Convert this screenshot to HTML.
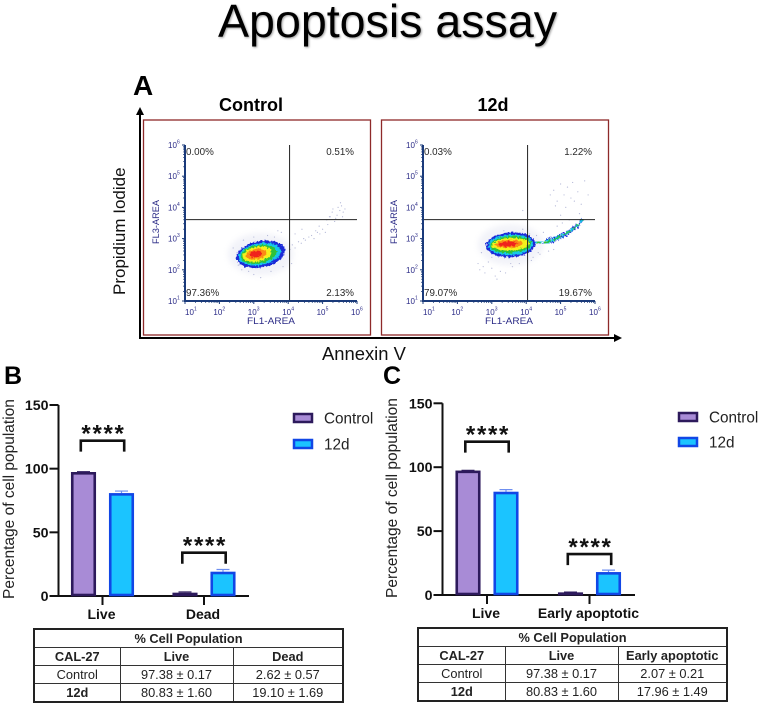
<!DOCTYPE html>
<html lang="en">
<head>
<meta charset="utf-8">
<title>Apoptosis assay</title>
<style>
html,body{margin:0;padding:0;background:#fff;}
#page{position:relative;width:762px;height:707px;overflow:hidden;background:#fff;font-family:"Liberation Sans",sans-serif;}
#fig{position:absolute;left:0;top:0;}
table.pop{position:absolute;border-collapse:collapse;table-layout:fixed;font-size:12.8px;color:#222;font-family:"Liberation Sans",sans-serif;}
table.pop td{border:1px solid #333;padding:0;text-align:center;height:17.1px;line-height:15px;white-space:nowrap;overflow:hidden;}
table.pop{border:2px solid #222;}
table.pop tr.head td{font-weight:bold;}
table.pop td.b{font-weight:bold;}
</style>
</head>
<body>
<div id="page">
<svg id="fig" width="762" height="707" viewBox="0 0 762 707" xmlns="http://www.w3.org/2000/svg">
  <defs>
    <filter id="rough" x="-30%" y="-30%" width="160%" height="160%">
      <feTurbulence type="fractalNoise" baseFrequency="0.45" numOctaves="2" seed="4"/>
      <feDisplacementMap in="SourceGraphic" scale="4.5" xChannelSelector="R" yChannelSelector="G"/>
      <feGaussianBlur stdDeviation="0.35"/>
    </filter>
    <filter id="halo" x="-40%" y="-40%" width="180%" height="180%"><feGaussianBlur stdDeviation="3"/></filter>
  </defs>
  <text x="218" y="37" font-size="46" textLength="339" lengthAdjust="spacingAndGlyphs" fill="#000" style="filter:drop-shadow(1.5px 1.5px 1px rgba(0,0,0,.38))">Apoptosis assay</text>
  <text x="133" y="95" font-size="28" font-weight="bold">A</text>
  <text x="4" y="384" font-size="25" font-weight="bold">B</text>
  <text x="383" y="384" font-size="25" font-weight="bold">C</text>
  <text x="251" y="111" font-size="18" font-weight="bold" text-anchor="middle">Control</text>
  <text x="493" y="111" font-size="18" font-weight="bold" text-anchor="middle">12d</text>
  <text transform="translate(125,295) rotate(-90)" font-size="17" fill="#111">Propidium Iodide</text>
  <text x="322" y="360" font-size="18.4" fill="#111">Annexin V</text>
  <line x1="140" y1="338" x2="140" y2="112" stroke="#000" stroke-width="2"/>
  <polygon points="140,107 136,115 144,115" fill="#000"/>
  <line x1="139" y1="338" x2="615" y2="338" stroke="#000" stroke-width="2"/>
  <polygon points="622,338 614,334 614,342" fill="#000"/>
  <g id="flows"></g>
  <g id="chartB"></g>
  <g id="chartC"></g>
</svg>

<table class="pop" style="left:33px;top:628px;width:309px;">
  <colgroup><col style="width:86px"><col style="width:113px"><col style="width:110px"></colgroup>
  <tr class="head"><td colspan="3">% Cell Population</td></tr>
  <tr class="head"><td>CAL-27</td><td>Live</td><td>Dead</td></tr>
  <tr><td>Control</td><td>97.38 ± 0.17</td><td>2.62 ± 0.57</td></tr>
  <tr><td class="b">12d</td><td>80.83 ± 1.60</td><td>19.10 ± 1.69</td></tr>
</table>
<table class="pop" style="left:417px;top:627px;width:309px;">
  <colgroup><col style="width:87px"><col style="width:113px"><col style="width:109px"></colgroup>
  <tr class="head"><td colspan="3">% Cell Population</td></tr>
  <tr class="head"><td>CAL-27</td><td>Live</td><td>Early apoptotic</td></tr>
  <tr><td>Control</td><td>97.38 ± 0.17</td><td>2.07 ± 0.21</td></tr>
  <tr><td class="b">12d</td><td>80.83 ± 1.60</td><td>17.96 ± 1.49</td></tr>
</table>
</div>

<script>
// ---- Bar chart data ----
var seriesNames = ['Control', '12d'];
var yTicks = [0, 50, 100, 150];
var bCategories = ['Live', 'Dead'];
var bControl = [97.38, 2.62];
var bTreated = [80.83, 19.10];
var bControlErr = [0.17, 0.57];
var bTreatedErr = [1.60, 1.69];
var bBrackets = [122, 34];
var cCategories = ['Live', 'Early apoptotic'];
var cControl = [97.38, 2.07];
var cTreated = [80.83, 17.96];
var cControlErr = [0.17, 0.21];
var cTreatedErr = [1.60, 1.49];
var cBrackets = [120, 32];

// ---- Flow cytometry data (log10 units) ----
var logTicks = [1, 2, 3, 4, 5, 6];
var gateLog = [4.04, 3.61];
var controlQuadrants = ['0.00%', '0.51%', '97.36%', '2.13%'];
var treatedQuadrants = ['0.03%', '1.22%', '79.07%', '19.67%'];
var densityColors = ['#1c2bd8', '#19c8e8', '#2fc23a', '#f5f01e', '#fb8a12', '#f0201a'];
var controlDensityX = [3.2, 3.17, 3.14, 3.1, 3.07, 3.05];
var controlDensityY = [2.5, 2.5, 2.5, 2.5, 2.5, 2.5];
var controlDensityRx = [0.72, 0.62, 0.53, 0.42, 0.3, 0.18];
var controlDensityRy = [0.42, 0.35, 0.3, 0.24, 0.17, 0.1];
var treatedDensityX = [3.55, 3.55, 3.55, 3.55, 3.5, 3.48];
var treatedDensityY = [2.8, 2.8, 2.81, 2.82, 2.83, 2.83];
var treatedDensityRx = [0.72, 0.65, 0.6, 0.55, 0.4, 0.27];
var treatedDensityRy = [0.40, 0.33, 0.27, 0.2, 0.13, 0.08];
var tailX = [4.11, 4.6, 4.9, 5.19, 5.48, 5.65];
var tailY = [2.86, 2.89, 3.02, 3.18, 3.4, 3.63];
var controlDotsX = [4.05,4.12,4.2,4.3,4.38,4.45,4.5,4.6,4.68,4.75,4.85,4.92,5.0,5.08,5.15,5.22,5.28,5.35,5.42,5.5,5.55,5.6,5.45,5.38,5.3,5.2,5.12,5.52,5.58,5.65,4.9,4.8,4.4,4.2,3.8,3.6,3.4,3.0,2.7,2.6,2.55,2.65,2.85,3.0,3.2,3.5,3.85,4.1,2.4,3.7];
var controlDotsY = [2.65,2.8,2.7,2.9,2.85,3.0,2.95,3.05,3.1,3.0,3.2,3.15,3.3,3.2,3.45,3.7,3.85,3.55,3.75,3.9,4.05,3.85,4.0,3.65,3.95,3.7,3.6,4.15,3.7,3.95,3.4,3.25,3.3,3.15,3.2,3.05,3.1,3.05,2.95,2.4,2.15,2.0,1.95,1.85,1.75,1.95,2.1,2.2,2.7,3.25];
var treatedDotsX = [3.0,2.9,2.75,2.65,2.6,2.8,3.0,3.1,3.25,3.4,3.6,3.8,3.15,2.95,2.7,3.7,3.9,4.1,4.3,4.5,4.7,4.9,5.05,4.7,4.8,4.9,5.0,5.1,5.2,5.3,5.35,5.4,5.5,5.6,5.7,5.8,5.55,5.15,5.0,4.85,5.25,3.9,4.2,4.4,4.15,4.35,4.65,3.55,3.35,4.8];
var treatedDotsY = [2.4,2.25,2.1,2.0,2.2,1.9,2.05,1.8,1.95,1.9,2.1,2.2,1.7,2.6,2.55,3.2,3.3,3.15,3.1,3.2,3.05,3.4,3.5,4.4,4.55,4.2,4.75,4.4,4.65,4.3,4.8,4.2,4.5,4.1,4.85,4.4,3.8,4.0,3.75,4.05,3.6,3.9,2.4,2.5,2.3,2.55,2.6,2.2,3.25,2.65];

var NS = 'http://www.w3.org/2000/svg';
function el(parent, tag, attrs, text) {
  var n = document.createElementNS(NS, tag);
  for (var k in attrs) n.setAttribute(k, attrs[k]);
  if (text !== undefined) n.textContent = text;
  parent.appendChild(n);
  return n;
}

function drawBarChart(root, d, px) {
  function y(v) { return px.y0 - v * px.unit; }
  var barW = 22.5, off = 19;
  var colors = [{fill:'#a88bd6', stroke:'#2d1a5c', err:'#2d1a5c'}, {fill:'#1bc4ff', stroke:'#1147e6', err:'#6f8ff0'}];
  var axis = el(root, 'path', {d:'M' + px.x0 + ' ' + y(150) + 'V' + px.y0 + 'H' + px.xEnd, fill:'none', stroke:'#111', 'stroke-width':2});
  
  
  yTicks.forEach(function (t) {
    var tick = el(root, 'line', {x1:px.x0 - 9, x2:px.x0, y1:y(t), y2:y(t), stroke:'#111', 'stroke-width':2});
    
    
    var lab = el(root, 'text', {x:px.x0 - 10, y:y(t) + 5, 'font-size':14.2, 'font-weight':'bold', 'text-anchor':'end', fill:'#111'}, String(t));
    
    
  });
  var title = el(root, 'text', {transform:'translate(' + px.titleX + ',' + (px.y0 + 3) + ') rotate(-90)', 'font-size':15.5, fill:'#222'}, 'Percentage of cell population');
  
  
  d.categories.forEach(function (cat, i) {
    var c = px.centers[i];
    var tk = el(root, 'line', {x1:c, x2:c, y1:px.y0, y2:px.y0 + 9, stroke:'#111', 'stroke-width':2});
    
    
    var cl = el(root, 'text', {x:c - 1, y:px.y0 + 23, 'font-size':14, 'font-weight':'bold', 'text-anchor':'middle', fill:'#111'}, cat);
    
    
    [d.control, d.treated].forEach(function (vals, s) {
      var errs = s ? d.treatedErr : d.controlErr;
      var bx = c + (s ? off : -off);
      var e = el(root, 'path', {d:'M' + bx + ' ' + y(vals[i]) + 'V' + y(vals[i] + errs[i]) + 'M' + (bx - 6.5) + ' ' + y(vals[i] + errs[i]) + 'H' + (bx + 6.5), stroke:colors[s].err, 'stroke-width':1.2, fill:'none'});
      
      
      var top = y(vals[i]) + 1.3;
      var b = el(root, 'rect', {x:bx - barW / 2, y:top, width:barW, height:Math.max(0.5, px.y0 - top - 1), fill:colors[s].fill, stroke:colors[s].stroke, 'stroke-width':2.6});
      
      
    });
    var by = y(d.brackets[i]);
    var br = el(root, 'path', {d:'M' + (c - 21.7) + ' ' + (by + 11) + 'V' + by + 'H' + (c + 21.7) + 'V' + (by + 11), fill:'none', stroke:'#111', 'stroke-width':2.6});
    
    
    var st = el(root, 'text', {x:c + 1, y:by + 1, 'font-size':24, 'font-weight':'bold', 'text-anchor':'middle', 'letter-spacing':'1.7', fill:'#111'}, '****');
    
    
  });
  seriesNames.forEach(function (name, s) {
    var ly = px.legendY[s];
    var sw = el(root, 'rect', {x:px.legendX + 1, y:ly + 1, width:18, height:8, fill:colors[s].fill, stroke:colors[s].stroke, 'stroke-width':2.5});
    
    
    var tx = el(root, 'text', {x:px.legendX + 31, y:ly + 10.5, 'font-size':15.3, fill:'#222'}, name);
    
    
  });
}

drawBarChart(document.getElementById('chartB'),
  {categories:bCategories, control:bControl, treated:bTreated, controlErr:bControlErr, treatedErr:bTreatedErr, brackets:bBrackets},
  {x0:58.5, xEnd:249, y0:596, unit:191/150, centers:[102.5, 204], titleX:14, legendX:293, legendY:[413, 439]});
drawBarChart(document.getElementById('chartC'),
  {categories:cCategories, control:cControl, treated:cTreated, controlErr:cControlErr, treatedErr:cTreatedErr, brackets:cBrackets},
  {x0:442.5, xEnd:635, y0:595, unit:191.7/150, centers:[487, 589.5], titleX:397, legendX:678, legendY:[412, 437]});

function drawFlow(root, d, px) {
  function X(v) { return px.axisX + (v - 1) * 34.4; }
  function Y(v) { return 301 - (v - 1) * 31.2; }
  var g = el(root, 'g', {});
  
  
  var frame = el(g, 'rect', {x:px.frameX, y:120, width:227, height:215, fill:'#fff', stroke:'#8e2a2a', 'stroke-width':1.3});
  
  

  var halo = el(g, 'ellipse', {cx:X(d.dx[0]), cy:Y(d.dy[0]), rx:d.rx[0] * 34.4 + 8, ry:d.ry[0] * 31.2 + 8, fill:'#d4d7ea', opacity:0.3, filter:'url(#halo)'});
  
  

  d.dotsX.forEach(function (v, i) {
    var dot = el(g, 'circle', {cx:X(v), cy:Y(d.dotsY[i]), r:0.6, fill:'#b5b9d8'});
    
    
  });

  if (d.tailX) {
    var tw = [8, 7, 5.5, 4.5, 3.5, 2.5];
    var tc = [['#1c2bd8', 0.9, '1.6 1'], ['#19c8e8', 0.5, '3 1.5'], ['#2fc23a', 0.25, '4 3']];
    tc.forEach(function (c) {
      for (var i = 0; i < d.tailX.length - 1; i++) {
        var seg = el(g, 'line', {x1:X(d.tailX[i]), y1:Y(d.tailY[i]), x2:X(d.tailX[i + 1]), y2:Y(d.tailY[i + 1]), stroke:c[0], 'stroke-width':tw[i] * c[1], 'stroke-dasharray':c[2], filter:'url(#rough)'});
        
        
      }
    });
  }

  var blob = el(g, 'g', {filter:'url(#rough)'});
  
  
  densityColors.forEach(function (col, i) {
    var cx = X(d.dx[i]), cy = Y(d.dy[i]);
    var e = el(blob, 'ellipse', {cx:cx, cy:cy, rx:d.rx[i] * 34.4, ry:d.ry[i] * 31.2, fill:col, transform:'rotate(' + px.tilt + ' ' + cx + ' ' + cy + ')'});
    
    
  });

  var gv = el(g, 'line', {x1:X(gateLog[0]), x2:X(gateLog[0]), y1:145, y2:301, stroke:'#222', 'stroke-width':1});
  
  
  var gh = el(g, 'line', {x1:X(1), x2:X(6), y1:Y(gateLog[1]), y2:Y(gateLog[1]), stroke:'#222', 'stroke-width':1});
  
  

  var ax = el(g, 'path', {d:'M' + X(1) + ' 145V' + Y(1) + 'H' + X(6), fill:'none', stroke:'#1a3a7a', 'stroke-width':2});
  
  

  logTicks.forEach(function (t) {
    var xt = el(g, 'line', {x1:X(t), x2:X(t), y1:301, y2:304, stroke:'#1a3a7a', 'stroke-width':1});
    
    
    var yt = el(g, 'line', {x1:X(1) - 3, x2:X(1), y1:Y(t), y2:Y(t), stroke:'#1a3a7a', 'stroke-width':1});
    
    
    [2, 3, 4, 5, 6, 7, 8, 9].forEach(function (m) {
      if (t === 6) return;
      var lg = Math.log10(m);
      var mt = el(g, 'path', {d:'M' + X(t + lg) + ' 301v2M' + (X(1) - 2) + ' ' + Y(t + lg) + 'h2', stroke:'#1a3a7a', 'stroke-width':0.7});
      
      
    });
    var lx = t === 1 ? X(t) : X(t) - 6;
    var xl = el(g, 'text', {x:lx, y:315, 'font-size':8, fill:'#2a2a86'}, '10');
    
    
    var xs = el(g, 'text', {x:lx + 9, y:310.5, 'font-size':5, fill:'#2a2a86'}, String(t));
    
    
    var yl = el(g, 'text', {x:X(1) - 17, y:Y(t) + 3, 'font-size':8, fill:'#2a2a86'}, '10');
    
    
    var ys = el(g, 'text', {x:X(1) - 8, y:Y(t) - 1.5, 'font-size':5, fill:'#2a2a86'}, String(t));
    
    
  });

  var xt2 = el(g, 'text', {x:X(1) + 62, y:324, 'font-size':9.5, textLength:48, lengthAdjust:'spacingAndGlyphs', fill:'#2a2a86'}, 'FL1-AREA');
  
  
  var yt2 = el(g, 'text', {transform:'translate(' + (X(1) - 26) + ',244) rotate(-90)', 'font-size':9, textLength:44, lengthAdjust:'spacingAndGlyphs', fill:'#2a2a86'}, 'FL3-AREA');
  
  

  var qx = [X(1) + 1, X(6) - 3, X(1) + 1, X(6) - 3];
  var qy = [155, 155, 296, 296];
  var qa = ['start', 'end', 'start', 'end'];
  d.quad.forEach(function (q, i) {
    var t = el(g, 'text', {x:qx[i], y:qy[i], 'font-size':9.8, 'text-anchor':qa[i], fill:'#2a2a2a'}, q);
    
    
  });
}

var flows = document.getElementById('flows');
drawFlow(flows, {name:'control', quad:controlQuadrants, dx:controlDensityX, dy:controlDensityY, rx:controlDensityRx, ry:controlDensityRy, dotsX:controlDotsX, dotsY:controlDotsY},
  {frameX:143.5, axisX:185, tilt:-10});
drawFlow(flows, {name:'treated', quad:treatedQuadrants, dx:treatedDensityX, dy:treatedDensityY, rx:treatedDensityRx, ry:treatedDensityRy, dotsX:treatedDotsX, dotsY:treatedDotsY, tailX:tailX, tailY:tailY},
  {frameX:381.5, axisX:423, tilt:-3});
</script>
</body>
</html>
